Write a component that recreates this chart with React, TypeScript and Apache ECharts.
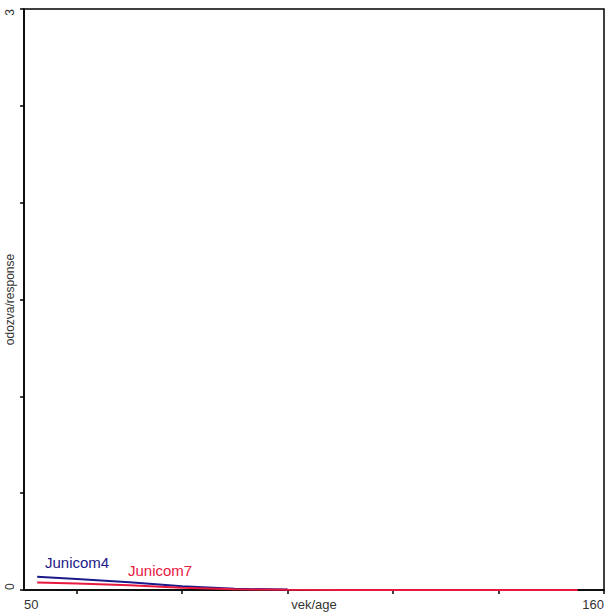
import React, { useEffect, useRef } from "react";
import * as echarts from "echarts";

// Ages (years) at which the response curves were evaluated
const ages4: number[] = [52.5, 60, 70, 80, 90, 100];
const response4: number[] = [0.068, 0.057, 0.04, 0.019, 0.006, 0.002];

const ages7: number[] = [52.5, 60, 70, 80, 90, 100, 110, 120, 130, 140, 155];
const response7: number[] = [0.039, 0.034, 0.024, 0.012, 0.004, 0.001, 0, 0, 0, 0, 0];

const xTicks: number[] = [60, 80, 100, 120, 140, 160];
const xLabels: number[] = [50, 160];
const yLabels: number[] = [0, 3];

const FONT = "'Liberation Sans', Arial, sans-serif";

export default function App() {
  const ref = useRef<HTMLDivElement>(null);

  useEffect(() => {
    if (!ref.current) return;
    const chart = echarts.init(ref.current, null, { renderer: "svg" });
    chart.setOption({
      animation: false,
      backgroundColor: "#fff",
      grid: {
        left: 24,
        right: 11,
        top: 9,
        bottom: 26,
        outerBoundsMode: "none",
        containLabel: false,
        show: true,
        borderColor: "#000",
        borderWidth: 1.5,
      },
      xAxis: {
        type: "value",
        min: 50,
        max: 160,
        interval: 10,
        name: "vek/age",
        nameLocation: "middle",
        nameGap: 8,
        nameMoveOverlap: false,
        nameTextStyle: {
          fontFamily: FONT,
          fontSize: 13,
          color: "#333",
          verticalAlign: "top",
        },
        axisLine: { show: true, onZero: false, lineStyle: { color: "#000", width: 1.5 } },
        axisTick: { show: true, length: 4, customValues: xTicks, lineStyle: { color: "#000", width: 1.5 } },
        axisLabel: {
          customValues: xLabels,
          alignMinLabel: "left",
          alignMaxLabel: "right",
          fontFamily: FONT,
          fontSize: 13,
          color: "#333",
          margin: 8,
        },
        splitLine: { show: false },
      },
      yAxis: {
        type: "value",
        min: 0,
        max: 3,
        interval: 0.5,
        name: "odozva/response",
        nameLocation: "middle",
        nameRotate: 90,
        nameGap: 8,
        nameMoveOverlap: false,
        nameTextStyle: {
          fontFamily: FONT,
          fontSize: 12,
          color: "#333",
          verticalAlign: "bottom",
        },
        axisLine: { show: true, onZero: false, lineStyle: { color: "#000", width: 1.5 } },
        axisTick: { show: true, length: 4, lineStyle: { color: "#000", width: 1.5 } },
        axisLabel: {
          customValues: yLabels,
          rotate: 90,
          alignMinLabel: "left",
          alignMaxLabel: "right",
          fontFamily: FONT,
          fontSize: 12,
          color: "#333",
          margin: 8,
        },
        splitLine: { show: false },
      },
      series: [
        {
          name: "Junicom7",
          type: "line",
          data: ages7.map((a, i) => [a, response7[i]]),
          showSymbol: false,
          lineStyle: { color: "#e8193f", width: 2 },
          z: 3,
        },
        {
          name: "Junicom4",
          type: "line",
          data: ages4.map((a, i) => [a, response4[i]]),
          showSymbol: false,
          lineStyle: { color: "#1c1a8a", width: 2 },
          z: 2,
        },
      ],
      graphic: [
        {
          type: "text",
          left: 45,
          top: 555,
          style: { text: "Junicom4", fontFamily: FONT, fontSize: 15, fill: "#1c1a8a" },
        },
        {
          type: "text",
          left: 128,
          top: 563,
          style: { text: "Junicom7", fontFamily: FONT, fontSize: 15, fill: "#e8193f" },
        },
      ],
    });
    return () => chart.dispose();
  }, []);

  return <div ref={ref} style={{ width: 615, height: 616, position: "absolute", left: 0, top: 0 }} />;
}
